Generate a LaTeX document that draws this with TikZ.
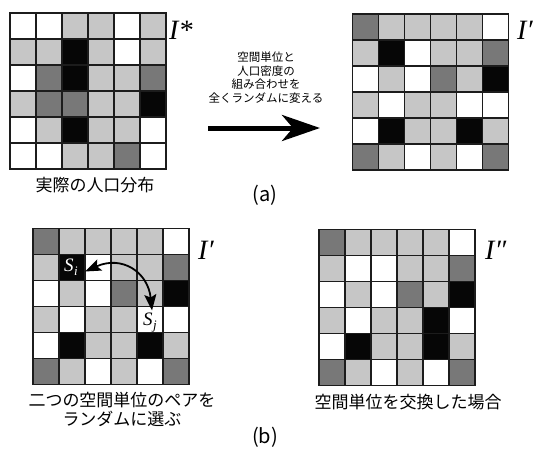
\documentclass[tikz,border=0pt]{standalone}
\usepackage{fontspec}
\setmainfont{Liberation Serif}
\newfontfamily\jp{Noto Sans CJK JP}
\usetikzlibrary{arrows.meta}
\definecolor{gW}{HTML}{FFFFFF}
\definecolor{gL}{HTML}{C6C6C6}
\definecolor{gD}{HTML}{787878}
\definecolor{gK}{HTML}{060606}
\definecolor{lineC}{HTML}{1C1C1C}
\tikzset{
  cell/.style={draw=lineC, line width=1.2pt, minimum size=26pt, inner sep=0pt, outer sep=0pt},
  frame/.style={draw=lineC, line width=1.6pt},
  imglabel/.style={anchor=base west, inner sep=0pt, font=\fontsize{28}{28}\selectfont\itshape},
  caption/.style={font=\jp\fontsize{17}{19}\selectfont, align=center, inner sep=0pt},
  small/.style={font=\jp\fontsize{11.5}{13.7}\selectfont, align=center, inner sep=0pt},
  sublabel/.style={font=\jp\fontsize{20}{20}\selectfont, inner sep=0pt},
  slabel/.style={font=\fontsize{19}{19}\selectfont, inner sep=0pt},
}
\newcommand\drawgrid[4]{%
  \foreach \row [count=\r] in {#4} {
    \foreach \c [count=\k] in \row {
      \node[cell, fill=\c] (#1-\r-\k) at ({#2+\k*26-13}, {#3+\r*26-13}) {};
    }
  }
  \draw[frame] (#2,#3) rectangle ++(156,156);
}
\begin{document}
\begin{tikzpicture}[x=1pt,y=-1pt]
\useasboundingbox (0,0) rectangle (539,453);
% grid I*
\drawgrid{ga}{10}{13}{{gW,gW,gL,gL,gW,gL},{gL,gL,gK,gL,gW,gL},{gW,gD,gK,gL,gL,gD},{gL,gD,gD,gL,gL,gK},{gW,gL,gK,gL,gL,gW},{gW,gW,gL,gL,gD,gW}}
% grid I' top
\drawgrid{gb}{352.5}{14}{{gD,gL,gL,gL,gL,gW},{gL,gK,gW,gL,gL,gD},{gW,gL,gW,gD,gL,gK},{gL,gW,gL,gL,gW,gW},{gW,gK,gL,gL,gK,gL},{gD,gL,gW,gL,gW,gD}}
% grid I' bottom
\drawgrid{gc}{33}{228.5}{{gD,gL,gL,gL,gL,gW},{gL,gK,gW,gL,gL,gD},{gW,gL,gW,gD,gL,gK},{gL,gW,gL,gL,gW,gW},{gW,gK,gL,gL,gK,gL},{gD,gL,gW,gL,gW,gD}}
% grid I''
\drawgrid{gd}{319}{229.5}{{gD,gL,gL,gL,gL,gW},{gL,gW,gW,gL,gL,gD},{gW,gL,gW,gD,gL,gK},{gL,gW,gL,gL,gK,gW},{gW,gK,gL,gL,gK,gL},{gD,gL,gW,gL,gW,gD}}

% image labels
\node[imglabel] (la) at (169,39) {I*};
\node[imglabel] (lb) at (517,39) {I′};
\node[imglabel] (lc) at (198,259) {I′};
\node[imglabel] (ld) at (485,259) {I″};

% captions
\node[caption] (ca) at (95,185) {実際の人口分布};
\node[small] (ta) at (266,77.5) {空間単位と\\人口密度の\\組み合わせを\\全くランダムに変える};
\node[sublabel] (pa) at (265,195) {(a)};
\node[caption] (cc) at (122,409) {二つの空間単位のペアを\\ランダムに選ぶ};
\node[caption] (cd) at (408,402) {空間単位を交換した場合};
\node[sublabel] (pb) at (265,437) {(b)};

% big arrow
\coordinate (arS) at (208,128);
\coordinate (arE) at (320,128);
\draw[line width=5pt, -{Stealth[length=38pt, width=26pt, inset=11pt]}] (arS) -- (arE);

% S labels
\node[slabel, text=white] (si) at ([xshift=-1pt]gc-2-2) {\itshape S\kern0.5pt\raisebox{-4pt}{\fontsize{13}{13}\selectfont i}};
\node[slabel] (sj) at ([yshift=-3pt]gc-4-5) {\itshape S\kern0.5pt\raisebox{-4pt}{\fontsize{13}{13}\selectfont j}};
\coordinate (swA) at ([yshift=-4pt]gc-2-2.east);
\coordinate (swB) at ([xshift=2pt,yshift=-4pt]gc-4-5.north);
\draw[line width=1.8pt, {Stealth[length=16pt, width=12pt, inset=3pt]}-{Stealth[length=16pt, width=12pt, inset=3pt]}]
  (swA) .. controls (122,255) and (148,272) .. (swB);
\end{tikzpicture}
\end{document}
